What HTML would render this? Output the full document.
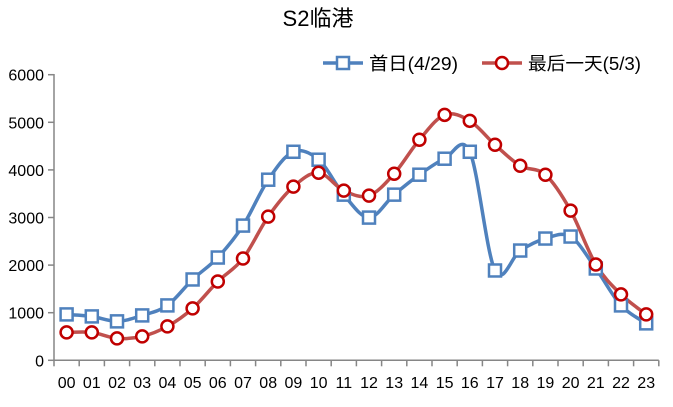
<!DOCTYPE html>
<html><head><meta charset="utf-8"><style>
html,body{margin:0;padding:0;background:#fff;}
svg{display:block;font-family:"Liberation Sans","Noto Sans CJK SC",sans-serif;}
</style></head><body>
<svg id="s" width="673" height="407" viewBox="0 0 673 407" xmlns="http://www.w3.org/2000/svg">
<text x="318" y="26" font-size="22" text-anchor="middle" fill="#000">S2临港</text>
<g id="ax" stroke="#868686" stroke-width="1.5" fill="none"></g>
<g id="lab" font-size="16" fill="#000"></g>
<g id="ser"></g>
<g font-size="18" fill="#000">
<line x1="323" y1="63" x2="363" y2="63" stroke="#4F81BD" stroke-width="3.5"/>
<rect x="337" y="57" width="12" height="12" fill="#fff" stroke="#4F81BD" stroke-width="2.5"/>
<text x="369" y="70" textLength="89" lengthAdjust="spacingAndGlyphs">首日(4/29)</text>
<line x1="482" y1="63" x2="522" y2="63" stroke="#C0504D" stroke-width="3.5"/>
<circle cx="502" cy="63" r="6" fill="#fff" stroke="#C00000" stroke-width="2.5"/>
<text x="528" y="70" textLength="113" lengthAdjust="spacingAndGlyphs">最后一天(5/3)</text>
</g>
</svg>
<script>
var NS="http://www.w3.org/2000/svg";
function el(t,a,p){var e=document.createElementNS(NS,t);for(var k in a)e.setAttribute(k,a[k]);if(p)p.appendChild(e);return e;}
var y0=360.3,k=47.6/1000,x0=54,dx=25.2;
var ax=document.getElementById('ax'),lab=document.getElementById('lab'),ser=document.getElementById('ser');
el('line',{x1:x0,y1:74,x2:x0,y2:y0},ax);
el('line',{x1:x0,y1:y0,x2:x0+24*dx,y2:y0},ax);
for(var i=0;i<=6;i++){var y=y0-i*1000*k;el('line',{x1:x0-6,y1:y,x2:x0,y2:y},ax);
var t=el('text',{x:x0-10,y:y+6,'text-anchor':'end'},lab);t.textContent=i*1000;}
for(var i=0;i<=24;i++){el('line',{x1:x0+i*dx,y1:y0,x2:x0+i*dx,y2:y0+6},ax);}
for(var i=0;i<24;i++){var t=el('text',{x:x0+dx/2+i*dx,y:388,'text-anchor':'middle'},lab);t.textContent=(i<10?'0':'')+i;}
var blue=[964,922,818,943,1153,1698,2159,2830,3794,4381,4214,3480,2998,3480,3899,4235,4381,1887,2306,2558,2600,1929,1153,776];
var red=[587,587,461,503,713,1090,1656,2138,3019,3648,3941,3564,3459,3920,4633,5157,5031,4528,4088,3899,3145,2013,1384,964];
function pts(d){return d.map(function(v,i){return [x0+dx/2+i*dx,y0-v*k];});}
function path(p){var s='M'+p[0][0]+','+p[0][1];for(var i=0;i<p.length-1;i++){var a=p[i-1]||p[i],b=p[i],c=p[i+1],d=p[i+2]||c;
s+=' C'+(b[0]+(c[0]-a[0])/6)+','+(b[1]+(c[1]-a[1])/6)+' '+(c[0]-(d[0]-b[0])/6)+','+(c[1]-(d[1]-b[1])/6)+' '+c[0]+','+c[1];}return s;}
var pb=pts(blue),pr=pts(red);
el('path',{d:path(pb),fill:'none',stroke:'#4F81BD','stroke-width':3.5},ser);
el('path',{d:path(pr),fill:'none',stroke:'#C0504D','stroke-width':3.5},ser);
pb.forEach(function(p){el('rect',{x:p[0]-6,y:p[1]-6,width:12,height:12,fill:'#fff',stroke:'#4F81BD','stroke-width':2.5},ser);});
pr.forEach(function(p){el('circle',{cx:p[0],cy:p[1],r:6,fill:'#fff',stroke:'#C00000','stroke-width':2.5},ser);});
</script>
</body></html>
